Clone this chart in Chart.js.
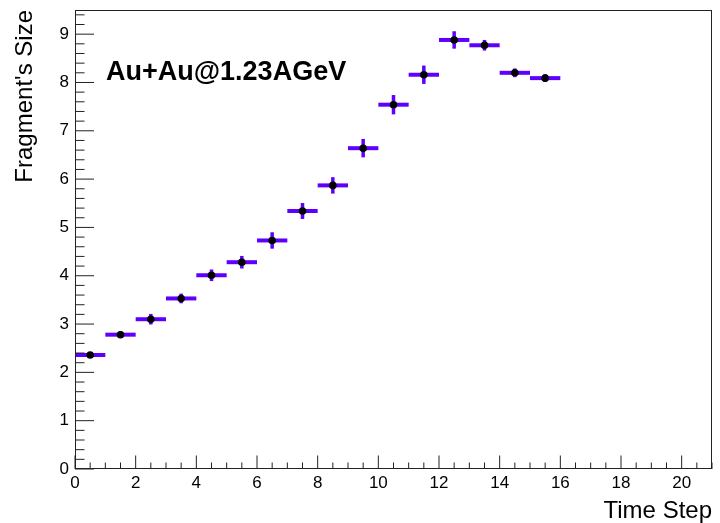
<!DOCTYPE html>
<html>
<head>
<meta charset="utf-8">
<script src="https://cdn.jsdelivr.net/npm/chart.js@4"></script>
<style>
  html,body{margin:0;padding:0;background:#fff;}
  canvas{display:block;}
</style>
</head>
<body>
<canvas id="fragChart" width="720" height="523"></canvas>
<script>
// ── Data ────────────────────────────────────────────────────────────────────
const timeSteps  = [0.5,1.5,2.5,3.5,4.5,5.5,6.5,7.5,8.5,9.5,10.5,11.5,12.5,13.5,14.5,15.5];
const fragSize   = [2.36,2.78,3.10,3.53,4.01,4.28,4.73,5.34,5.87,6.64,7.54,8.16,8.88,8.77,8.20,8.09];
const fragErr    = [0.05,0.07,0.11,0.10,0.12,0.13,0.17,0.165,0.17,0.19,0.20,0.19,0.18,0.11,0.09,0.08];
const binHalf    = 0.5;
const xTickLabels = [0,2,4,6,8,10,12,14,16,18,20];
const yTickLabels = [0,1,2,3,4,5,6,7,8,9];

const FONT = "'Liberation Sans', Arial, Helvetica, sans-serif";
const BAR_COL = '#5f00ff';

// ── Error bars (drawn under the markers) ───────────────────────────────────
const errorBars = {
  id:'errorBars',
  beforeDatasetsDraw(chart){
    const {ctx, scales:{x,y}} = chart;
    ctx.save();
    ctx.strokeStyle = BAR_COL; ctx.lineCap = 'butt';
    timeSteps.forEach((t,i)=>{
      const px = x.getPixelForValue(t), py = y.getPixelForValue(fragSize[i]);
      ctx.lineWidth = 4;
      ctx.beginPath();
      ctx.moveTo(x.getPixelForValue(t-binHalf), py);
      ctx.lineTo(x.getPixelForValue(t+binHalf), py);
      ctx.stroke();
      ctx.lineWidth = 3.5;
      ctx.beginPath();
      ctx.moveTo(px, y.getPixelForValue(fragSize[i]-fragErr[i]));
      ctx.lineTo(px, y.getPixelForValue(fragSize[i]+fragErr[i]));
      ctx.stroke();
    });
    ctx.restore();
  }
};

// ── ROOT-like frame, inner ticks and label ──────────────────────────────────
const frameTicks = {
  id:'frameTicks',
  afterDatasetsDraw(chart){
    const {ctx, chartArea:a, scales:{x,y}} = chart;
    ctx.save();
    ctx.strokeStyle = '#222'; ctx.lineWidth = 1;
    ctx.strokeRect(a.left+0.5, a.top+0.5, a.right-a.left-1, a.bottom-a.top-1);
    const yMaj = 19, yMin = 9.5, xMaj = 13.5, xMin = 6.5;
    ctx.beginPath();
    for (let v=0; v<=9.5+1e-9; v+=0.2) {
      const p = y.getPixelForValue(v);
      const major = Math.abs(v-Math.round(v))<1e-6;
      ctx.moveTo(a.left, p); ctx.lineTo(a.left+(major?yMaj:yMin), p);
    }
    for (let v=0; v<=21+1e-9; v+=0.5) {
      const p = x.getPixelForValue(v);
      const major = Math.abs(v/2-Math.round(v/2))<1e-6;
      ctx.moveTo(p, a.bottom); ctx.lineTo(p, a.bottom-(major?xMaj:xMin));
    }
    ctx.stroke();
    ctx.fillStyle = '#000';
    ctx.font = `bold 27px ${FONT}`;
    ctx.textBaseline = 'alphabetic'; ctx.textAlign = 'left';
    ctx.fillText('Au+Au@1.23AGeV', a.left+31, a.top+70);
    ctx.restore();
  }
};

const ctx = document.getElementById('fragChart');
new Chart(ctx, {
  type:'scatter',
  data:{ datasets:[{
    data: timeSteps.map((t,i)=>({x:t, y:fragSize[i]})),
    pointRadius:3.8, pointBackgroundColor:'#000', pointBorderWidth:0, showLine:false,
  }]},
  options:{
    responsive:false, animation:false, devicePixelRatio:1,
    layout:{ padding:{ top:10, right:8, left:0, bottom:0 } },
    plugins:{ legend:{display:false}, tooltip:{enabled:false} },
    scales:{
      x:{
        type:'linear', min:0, max:21,
        afterBuildTicks: s=>{ s.ticks = xTickLabels.map(v=>({value:v})); },
        afterFit: s=>{ s.height = 54; s.paddingLeft = 0; s.paddingRight = 0; },
        grid:{ display:false, drawTicks:false }, border:{ display:false },
        ticks:{ padding:4, color:'#000', font:{ family:FONT, size:17 }, maxRotation:0, autoSkip:false },
        title:{ display:true, text:'Time Step', align:'end', color:'#000',
                font:{ family:FONT, size:24, lineHeight:1 }, padding:{ top:0, bottom:0 } },
      },
      y:{
        type:'linear', min:0, max:9.5,
        afterBuildTicks: s=>{ s.ticks = yTickLabels.map(v=>({value:v})); },
        afterFit: s=>{ s.width = 75; s.paddingTop = 0; s.paddingBottom = 0; },
        grid:{ display:false, drawTicks:false }, border:{ display:false },
        ticks:{ padding:6, color:'#000', font:{ family:FONT, size:17 }, autoSkip:false },
        title:{ display:true, text:"Fragment's Size", align:'end', color:'#000',
                font:{ family:FONT, size:24, lineHeight:1 }, padding:{ top:13, bottom:0 } },
      },
    },
  },
  plugins:[errorBars, frameTicks],
});
</script>
</body>
</html>
